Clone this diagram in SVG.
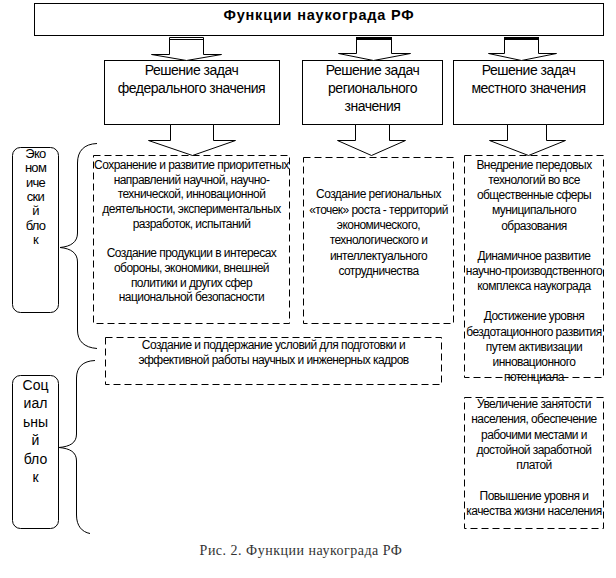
<svg xmlns="http://www.w3.org/2000/svg" width="616" height="578" viewBox="0 0 616 578">
<style>
.box{fill:#fff;stroke:#000;stroke-width:1}
.dash{fill:none;stroke:#000;stroke-width:1;stroke-dasharray:7 4}
.arr{fill:#fff;stroke:#000;stroke-width:1}
.brace{fill:none;stroke:#000;stroke-width:1}
.t{font-family:"Liberation Sans",Arial,sans-serif;fill:#000;text-anchor:middle}
.title{font-size:14.5px;font-weight:bold;letter-spacing:0.8px}
.h{font-size:14px;letter-spacing:-0.5px}
.b{font-size:12px;letter-spacing:-0.55px}
.e{font-size:13px;letter-spacing:-0.7px}
.s{font-size:14px}
.cap{font-family:"Liberation Serif","Times New Roman",serif;font-size:14px;letter-spacing:0.5px;fill:#333;text-anchor:middle}
</style>
<rect width="616" height="578" fill="#fff"/>

<g id="title">
<rect class="box" x="34.5" y="3.5" width="569" height="32"/>
<text class="t title" x="319" y="20">Функции наукограда РФ</text>
</g>

<g id="federal">
<rect class="box" x="104.5" y="60.5" width="175" height="64"/>
<text class="t h" x="191.5" y="75">Решение задач</text>
<text class="t h" x="191.5" y="92.5">федерального значения</text>
</g>

<g id="regional">
<rect class="box" x="302.5" y="60.5" width="140" height="64"/>
<text class="t h" x="372.5" y="75">Решение задач</text>
<text class="t h" x="372.5" y="92.5">регионального</text>
<text class="t h" x="372.5" y="111">значения</text>
</g>

<g id="local">
<rect class="box" x="453.5" y="60.5" width="150" height="64"/>
<text class="t h" x="528.5" y="75">Решение задач</text>
<text class="t h" x="528.5" y="92.5">местного значения</text>
</g>

<g id="econ-block">
<rect class="box" x="12.5" y="147.5" width="46" height="165" rx="8"/>
<text class="t e" x="35.5" y="158">Эко</text>
<text class="t e" x="35.5" y="172.3">ном</text>
<text class="t e" x="35.5" y="186.6">иче</text>
<text class="t e" x="35.5" y="200.9">ски</text>
<text class="t e" x="35.5" y="215.2">й</text>
<text class="t e" x="35.5" y="229.5">бло</text>
<text class="t e" x="35.5" y="243.8">к</text>
</g>

<g id="social-block">
<rect class="box" x="12.5" y="375.5" width="46" height="153" rx="8"/>
<text class="t s" x="35.5" y="390">Соц</text>
<text class="t s" x="35.5" y="408.4">иал</text>
<text class="t s" x="35.5" y="426.8">ьны</text>
<text class="t s" x="35.5" y="445.2">й</text>
<text class="t s" x="35.5" y="463.6">бло</text>
<text class="t s" x="35.5" y="482">к</text>
</g>

<g id="federal-tasks">
<rect class="dash" x="93.5" y="155.5" width="196" height="168"/>
<text class="t b" x="191.5" y="169">Сохранение и развитие приоритетных</text>
<text class="t b" x="191.5" y="183.7">направлений научной, научно-</text>
<text class="t b" x="191.5" y="198.4">технической, инновационной</text>
<text class="t b" x="191.5" y="213.1">деятельности, экспериментальных</text>
<text class="t b" x="191.5" y="227.8">разработок, испытаний</text>
<text class="t b" x="191.5" y="257.2">Создание продукции в интересах</text>
<text class="t b" x="191.5" y="271.9">обороны, экономики, внешней</text>
<text class="t b" x="191.5" y="286.6">политики и других сфер</text>
<text class="t b" x="191.5" y="301.3">национальной безопасности</text>
</g>

<g id="regional-tasks">
<rect class="dash" x="303.5" y="157.5" width="150" height="166"/>
<text class="t b" x="378.5" y="198.2">Создание региональных</text>
<text class="t b" x="378.5" y="213.6">«точек» роста - территорий</text>
<text class="t b" x="378.5" y="229">экономического,</text>
<text class="t b" x="378.5" y="244.4">технологического и</text>
<text class="t b" x="378.5" y="259.8">интеллектуального</text>
<text class="t b" x="378.5" y="275.2">сотрудничества</text>
</g>

<g id="local-tasks">
<rect class="dash" x="464.5" y="155.5" width="139" height="222"/>
<text class="t b" x="534" y="169">Внедрение передовых</text>
<text class="t b" x="534" y="184.1">технологий во все</text>
<text class="t b" x="534" y="199.3">общественные сферы</text>
<text class="t b" x="534" y="214.4">муниципального</text>
<text class="t b" x="534" y="229.6">образования</text>
<text class="t b" x="534" y="259.8">Динамичное развитие</text>
<text class="t b" x="534" y="275">научно-производственного</text>
<text class="t b" x="534" y="290.1">комплекса наукограда</text>
<text class="t b" x="534" y="320.4">Достижение уровня</text>
<text class="t b" x="534" y="335.5">бездотационного развития</text>
<text class="t b" x="534" y="350.7">путем активизации</text>
<text class="t b" x="534" y="365.8">инновационного</text>
<text class="t b" x="534" y="381">потенциала</text>
</g>

<g id="staff">
<rect class="dash" x="105.5" y="337.5" width="336" height="47"/>
<text class="t b" x="273.5" y="349">Создание и поддержание условий для подготовки и</text>
<text class="t b" x="273.5" y="364">эффективной работы научных и инженерных кадров</text>
</g>

<g id="social-tasks">
<rect class="dash" x="464.5" y="397.5" width="139" height="131"/>
<text class="t b" x="534" y="408">Увеличение занятости</text>
<text class="t b" x="534" y="423.3">населения, обеспечение</text>
<text class="t b" x="534" y="438.6">рабочими местами и</text>
<text class="t b" x="534" y="453.9">достойной заработной</text>
<text class="t b" x="534" y="469.2">платой</text>
<text class="t b" x="534" y="499.8">Повышение уровня и</text>
<text class="t b" x="534" y="515.1">качества жизни населения</text>
</g>

<g id="connectors">
<polygon class="arr" points="169.5,37.5 203.5,37.5 203.5,54.5 221.5,54.5 186.5,60.5 151.5,54.5 169.5,54.5"/>
<line x1="169.5" y1="39.5" x2="203.5" y2="39.5" stroke="#000" stroke-width="1"/>
<polygon class="arr" points="356.5,38.5 391.5,38.5 391.5,53.5 410.5,53.5 373.5,60.5 338.5,53.5 356.5,53.5"/>
<rect x="356" y="37" width="36" height="3" fill="#000"/>
<polygon class="arr" points="504.5,38.5 538.5,38.5 538.5,53.5 556.5,53.5 521.5,60.5 488.5,53.5 504.5,53.5"/>
<rect x="504" y="37" width="35" height="3" fill="#000"/>
<polygon class="arr" points="170.5,124.5 213.5,124.5 213.5,140.5 235.5,140.5 192.5,155.5 148.5,140.5 170.5,140.5"/>
<polygon class="arr" points="355.5,124.5 389.5,124.5 389.5,140.5 405.5,140.5 371.5,155.5 337.5,140.5 355.5,140.5"/>
<polygon class="arr" points="507.5,124.5 546.5,124.5 546.5,140.5 565.5,140.5 528.5,155.5 489.5,140.5 507.5,140.5"/>
<path class="brace" d="M97,143.5 C84,144 77.5,151 77.5,163 L77.5,233 C77.5,242 71,246.5 60,247.5 C71,248.5 77.5,253 77.5,262 L77.5,330 C77.5,341 84,347.5 97,348.5"/>
<path class="brace" d="M95,360.5 C83,361 76.5,367 76.5,378 L76.5,434 C76.5,443 70,446.5 59,447.5 C70,448.5 76.5,452 76.5,461 L76.5,515 C76.5,526 82,532 90,533.5"/>
</g>

<text class="cap" x="301" y="555">Рис. 2. Функции наукограда РФ</text>
</svg>
